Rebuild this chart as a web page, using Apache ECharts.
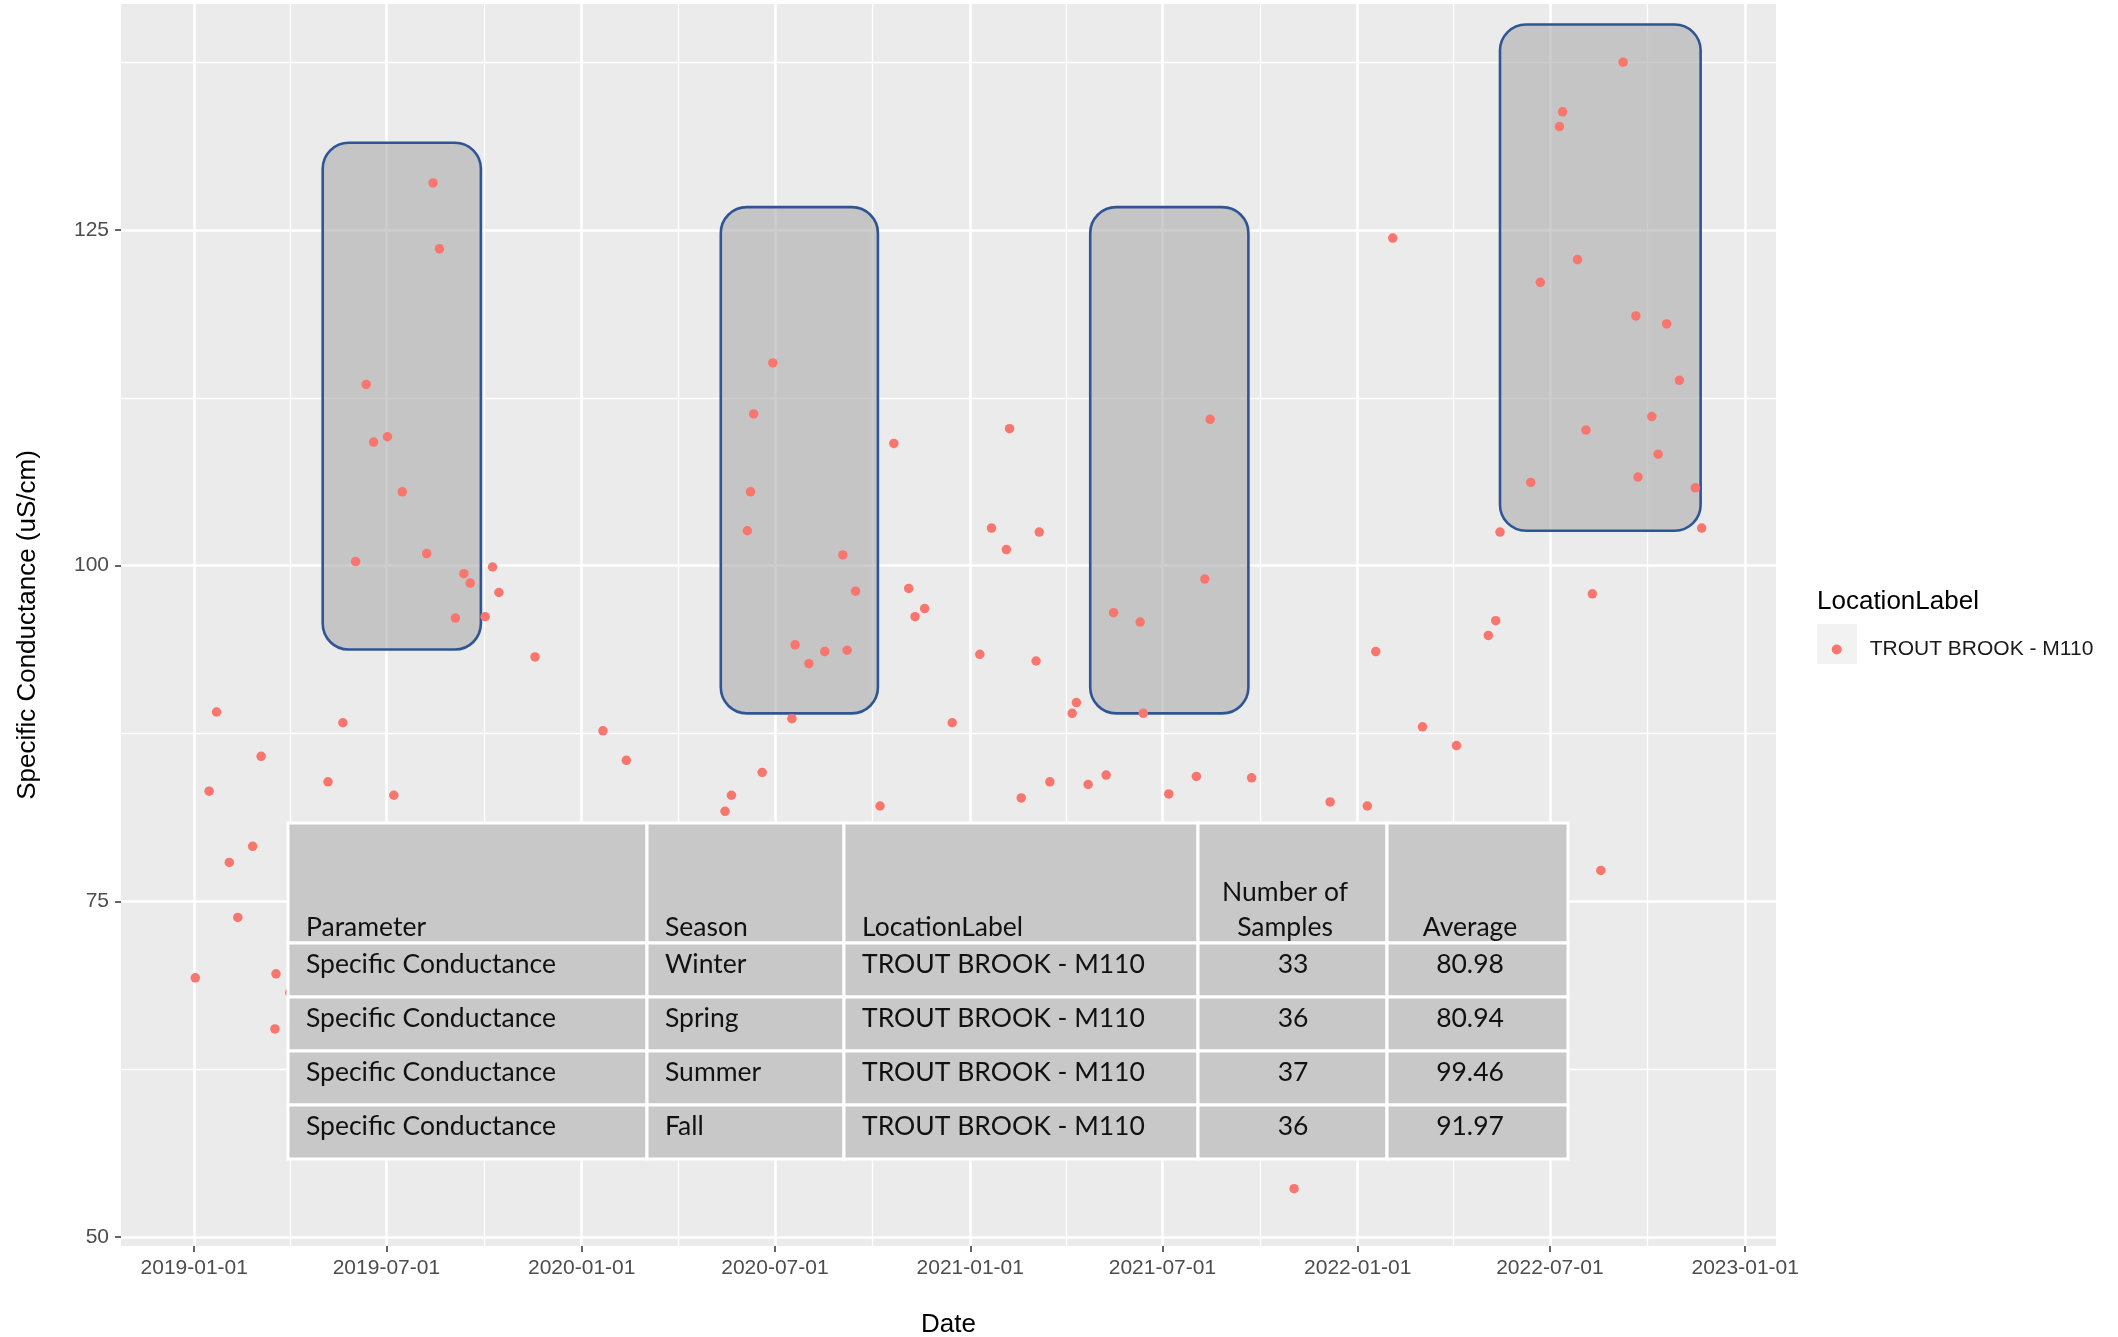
<!DOCTYPE html>
<html>
<head>
<meta charset="utf-8">
<title>Specific Conductance - Trout Brook M110</title>
<script src="https://cdn.jsdelivr.net/npm/echarts@6/dist/echarts.min.js"></script>
<style>
  html, body { margin: 0; padding: 0; background: #ffffff; }
  #chart { width: 2118px; height: 1337px; }
</style>
</head>
<body>
<div id="chart"></div>
<script>
// ---- Sample data: Trout Brook (M110) specific conductance, uS/cm ----
const sampleDates = [
  '2019-01-02','2019-01-15','2019-01-22','2019-02-03','2019-02-11','2019-02-25','2019-03-05',
  '2019-03-18','2019-03-19','2019-04-01','2019-05-07','2019-05-21','2019-06-02','2019-06-12',
  '2019-06-19','2019-07-02','2019-07-08','2019-07-16','2019-08-08','2019-08-14','2019-08-20',
  '2019-09-04','2019-09-12','2019-09-18','2019-10-02','2019-10-09','2019-10-15','2019-11-18',
  '2020-01-21','2020-02-12','2020-05-15','2020-05-21','2020-06-05','2020-06-08','2020-06-11',
  '2020-06-19','2020-06-29','2020-07-17','2020-07-20','2020-08-02','2020-08-17','2020-09-03',
  '2020-09-07','2020-09-15','2020-10-08','2020-10-21','2020-11-04','2020-11-10','2020-11-19',
  '2020-12-15','2021-01-10','2021-01-21','2021-02-04','2021-02-07','2021-02-18','2021-03-04',
  '2021-03-07','2021-03-17','2021-04-07','2021-04-11','2021-04-22','2021-05-09','2021-05-16',
  '2021-06-10','2021-06-13','2021-07-07','2021-08-02','2021-08-10','2021-08-15','2021-09-23',
  '2021-11-02','2021-12-06','2022-01-10','2022-01-18','2022-02-03','2022-03-03','2022-04-04',
  '2022-05-04','2022-05-11','2022-05-15','2022-06-13','2022-06-22','2022-07-10','2022-07-13',
  '2022-07-27','2022-08-04','2022-08-10','2022-08-18','2022-09-08','2022-09-20','2022-09-22',
  '2022-10-05','2022-10-11','2022-10-19','2022-10-31','2022-11-15','2022-11-21'
];
const conductance = [
  69.3, 83.2, 89.1, 77.9, 73.8, 79.1, 85.8,
  65.5, 69.6, 68.2, 83.9, 88.3, 100.3, 113.5,
  109.2, 109.6, 82.9, 105.5, 100.9, 128.5, 123.6,
  96.1, 99.4, 98.7, 96.2, 99.9, 98.0, 93.2,
  87.7, 85.5, 81.7, 82.9, 102.6, 105.5, 111.3,
  84.6, 115.1, 88.6, 94.1, 92.7, 93.6, 100.8,
  93.7, 98.1, 82.1, 109.1, 98.3, 96.2, 96.8,
  88.3, 93.4, 102.8, 101.2, 110.2, 82.7, 92.9,
  102.5, 83.9, 89.0, 89.8, 83.7, 84.4, 96.5,
  95.8, 89.0, 83.0, 84.3, 99.0, 110.9, 84.2,
  53.6, 82.4, 82.1, 93.6, 124.4, 88.0, 86.6,
  94.8, 95.9, 102.5, 106.2, 121.1, 132.7, 133.8,
  122.8, 110.1, 97.9, 77.3, 137.5, 118.6, 106.6,
  111.1, 108.3, 118.0, 113.8, 105.8, 102.8
];
const seriesName = 'TROUT BROOK - M110';

// ---- Axis breaks ----
const xTickLabels = ['2019-01-01','2019-07-01','2020-01-01','2020-07-01','2021-01-01',
                     '2021-07-01','2022-01-01','2022-07-01','2023-01-01'];
const xMinorBreaks = ['2019-04-01','2019-10-01','2020-04-01','2020-10-01','2021-04-01',
                      '2021-10-01','2022-04-01','2022-10-01'];
const yTickLabels = [50, 75, 100, 125];
const yMinorBreaks = [62.5, 87.5, 112.5, 137.5];
const xLimits = ['2018-10-24', '2023-01-30'];
const yLimits = [49.33, 141.83];

// ---- Highlighted summer windows (date span and value span) ----
const boxStart = ['2019-05-02', '2020-05-11', '2021-04-24', '2022-05-15'];
const boxEnd   = ['2019-09-28', '2020-10-06', '2021-09-20', '2022-11-20'];
const boxLow   = [93.75, 89.0, 89.0, 102.6];
const boxHigh  = [131.5, 126.7, 126.7, 140.3];

// ---- Seasonal summary table ----
const tableHeader = ['Parameter', 'Season', 'LocationLabel', 'Number of\nSamples', 'Average'];
const tableParameter = ['Specific Conductance', 'Specific Conductance', 'Specific Conductance', 'Specific Conductance'];
const seasons = ['Winter', 'Spring', 'Summer', 'Fall'];
const tableLocation = ['TROUT BROOK - M110', 'TROUT BROOK - M110', 'TROUT BROOK - M110', 'TROUT BROOK - M110'];
const sampleCounts = [33, 36, 37, 36];
const seasonAverages = [80.98, 80.94, 99.46, 91.97];

// ---- Build ----
// dates become millisecond timestamps on a numeric axis
const ts = s => echarts.number.parseDate(s).getTime();
const pad2 = n => String(n).padStart(2, '0');
const fmtDate = v => { const d = new Date(v); return d.getFullYear() + '-' + pad2(d.getMonth() + 1) + '-' + pad2(d.getDate()); };

const points = sampleDates.map((d, i) => [ts(d), conductance[i]]);
const boxes = boxStart.map((s, i) => [ts(s), ts(boxEnd[i]), boxLow[i], boxHigh[i]]);

const AXIS_FONT = 'Liberation Sans';
const TABLE_FONT = '26.5px Lato';

// table layout (pixels)
const colX = [288, 647, 844, 1198, 1387, 1568];
const rowY = [823, 943, 997, 1051, 1105, 1159];
const tableElements = [];
for (let r = 0; r < 5; r++) {
  for (let c = 0; c < 5; c++) {
    tableElements.push({
      type: 'rect', z: 100, silent: true,
      shape: { x: colX[c], y: rowY[r], width: colX[c + 1] - colX[c], height: rowY[r + 1] - rowY[r] },
      style: { fill: '#C8C8C8', stroke: '#FFFFFF', lineWidth: 3 }
    });
  }
}
function cellText(text, x, y, align) {
  return {
    type: 'text', z: 101, silent: true, x: x, y: y,
    style: { text: text, font: TABLE_FONT, fill: '#111111', align: align, verticalAlign: 'middle' }
  };
}
// header
const headY = 927;
tableElements.push(cellText(tableHeader[0], colX[0] + 18, headY, 'left'));
tableElements.push(cellText(tableHeader[1], colX[1] + 18, headY, 'left'));
tableElements.push(cellText(tableHeader[2], colX[2] + 18, headY, 'left'));
tableElements.push({
  type: 'text', z: 101, silent: true, x: 1285, y: headY - 17.5,
  style: { text: tableHeader[3], font: TABLE_FONT, fill: '#111111', align: 'center',
           verticalAlign: 'middle', lineHeight: 35 }
});
tableElements.push(cellText(tableHeader[4], 1470, headY, 'center'));
// body rows
for (let r = 0; r < seasons.length; r++) {
  const y = rowY[r + 1] + 21;
  tableElements.push(cellText(tableParameter[r], colX[0] + 18, y, 'left'));
  tableElements.push(cellText(seasons[r], colX[1] + 18, y, 'left'));
  tableElements.push(cellText(tableLocation[r], colX[2] + 18, y, 'left'));
  tableElements.push(cellText(String(sampleCounts[r]), 1293, y, 'center'));
  tableElements.push(cellText(seasonAverages[r].toFixed(2), 1470, y, 'center'));
}

// legend title and key background
const legendElements = [
  { type: 'text', x: 1817, y: 602, silent: true,
    style: { text: 'LocationLabel', font: '26px ' + AXIS_FONT, fill: '#000000', align: 'left', verticalAlign: 'middle' } },
  { type: 'rect', silent: true, shape: { x: 1817, y: 624, width: 40, height: 40 }, style: { fill: '#F2F2F2' } }
];

const chart = echarts.init(document.getElementById('chart'), null, { renderer: 'canvas' });

const option = {
  animation: false,
  backgroundColor: '#FFFFFF',
  grid: {
    left: 121, right: 342, top: 4, bottom: 91,
    show: true, backgroundColor: '#EBEBEB', borderWidth: 0,
    containLabel: false, outerBoundsMode: 'none'
  },
  xAxis: [
    {
      type: 'value', gridIndex: 0, position: 'bottom',
      min: ts(xLimits[0]), max: ts(xLimits[1]),
      axisLine: { show: false },
      axisTick: { show: true, customValues: xTickLabels.map(ts), length: 6,
                  lineStyle: { color: '#333333', width: 1.5 } },
      axisLabel: { customValues: xTickLabels.map(ts), formatter: v => fmtDate(v),
                   color: '#4D4D4D', fontSize: 21, fontFamily: AXIS_FONT, margin: 12 },
      splitLine: { show: true, lineStyle: { color: '#FFFFFF', width: 2.6 } },
      name: 'Date', nameLocation: 'middle', nameGap: 66,
      nameTextStyle: { fontSize: 26, color: '#000000', fontFamily: AXIS_FONT }
    },
    {
      // minor breaks
      type: 'value', gridIndex: 0, position: 'top',
      min: ts(xLimits[0]), max: ts(xLimits[1]),
      axisLine: { show: false },
      axisTick: { show: false, customValues: xMinorBreaks.map(ts) },
      axisLabel: { show: false, customValues: xMinorBreaks.map(ts) },
      splitLine: { show: true, lineStyle: { color: '#FFFFFF', width: 1.3 } }
    }
  ],
  yAxis: [
    {
      type: 'value', gridIndex: 0, position: 'left',
      min: yLimits[0], max: yLimits[1],
      axisLine: { show: false },
      axisTick: { show: true, customValues: yTickLabels, length: 6,
                  lineStyle: { color: '#333333', width: 1.5 } },
      axisLabel: { customValues: yTickLabels, formatter: v => String(v),
                   color: '#4D4D4D', fontSize: 21, fontFamily: AXIS_FONT, margin: 12 },
      splitLine: { show: true, lineStyle: { color: '#FFFFFF', width: 2.6 } },
      name: 'Specific Conductance (uS/cm)', nameLocation: 'middle', nameGap: 80, nameRotate: 90,
      nameTextStyle: { fontSize: 26, color: '#000000', fontFamily: AXIS_FONT }
    },
    {
      type: 'value', gridIndex: 0, position: 'right',
      min: yLimits[0], max: yLimits[1],
      axisLine: { show: false },
      axisTick: { show: false, customValues: yMinorBreaks },
      axisLabel: { show: false, customValues: yMinorBreaks },
      splitLine: { show: true, lineStyle: { color: '#FFFFFF', width: 1.3 } }
    }
  ],
  legend: {
    data: [{ name: seriesName, icon: 'circle' }],
    left: 1831.7, top: 639, padding: 0,
    itemWidth: 10, itemHeight: 10, selectedMode: false,
    textStyle: { fontSize: 21, color: '#1A1A1A', fontFamily: AXIS_FONT, padding: [0, 0, 0, 23] }
  },
  series: [
    {
      type: 'custom', name: 'summer windows', xAxisIndex: 0, yAxisIndex: 0,
      z: 3, silent: true, clip: false,
      data: boxes,
      encode: { x: [0, 1], y: [2, 3] },
      renderItem: function (params, api) {
        const p0 = api.coord([api.value(0), api.value(3)]);
        const p1 = api.coord([api.value(1), api.value(2)]);
        return {
          type: 'rect',
          shape: { x: p0[0], y: p0[1], width: p1[0] - p0[0], height: p1[1] - p0[1], r: 26 },
          style: { fill: 'rgba(168,168,168,0.58)', stroke: '#2F5597', lineWidth: 2.6 }
        };
      }
    },
    {
      type: 'scatter', name: seriesName, xAxisIndex: 0, yAxisIndex: 0,
      z: 4, symbol: 'circle', symbolSize: 9.5,
      itemStyle: { color: '#F8766D', opacity: 1 },
      data: points
    }
  ],
  graphic: { elements: legendElements.concat(tableElements) }
};

chart.setOption(option);
</script>
</body>
</html>
